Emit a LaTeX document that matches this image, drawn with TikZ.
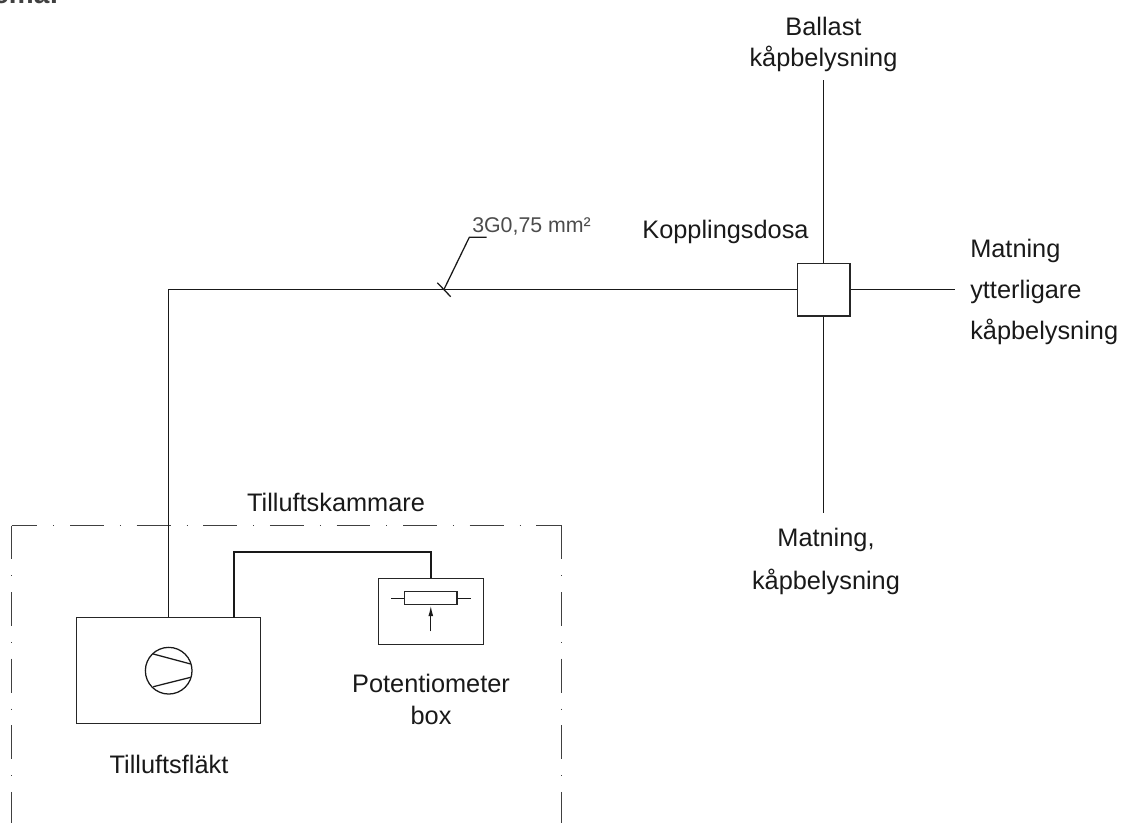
\documentclass[tikz,border=0pt]{standalone}
\usepackage{fontspec}
\setmainfont{Liberation Sans}
\usetikzlibrary{arrows.meta,positioning,calc}

\tikzset{
    wire/.style={line width=1.15pt,black!90},
    thinwire/.style={line width=0.95pt,black!90},
    unitbox/.style={draw,line width=1pt,black!85,minimum width=#1,inner sep=0pt},
    caption/.style={font=\fontsize{19}{23}\selectfont,align=center,text=black!90,inner sep=0pt},
    chamberline/.style={line width=1.1pt,black!75,dash pattern=on 25.4pt off 12pt on 0.6pt off 11.95pt}
}

\begin{document}
\begin{tikzpicture}[x=0.75pt,y=-0.75pt]
        \useasboundingbox (0,0) rectangle (1124,822);

        % Cut heading at the top edge
        \node[anchor=base east,inner sep=0pt,font=\fontsize{21}{25}\selectfont\bfseries,text=black!75] (heading) at (59,3) {Schema:};

        % Chamber outline, runs off the bottom
        \coordinate (chamberTL) at (11.5,525.5);
        \coordinate (chamberTR) at (561.5,525.5);
        \coordinate (chamberBL) at (11.5,830);
        \coordinate (chamberBR) at (561.5,830);
        \draw[chamberline,dash phase=6pt] (chamberTL) -- (chamberTR);
        \draw[chamberline] (chamberTL) -- (chamberBL);
        \draw[chamberline] (chamberTR) -- (chamberBR);
        \node[caption] (chamberlabel) at (336,502) {Tilluftskammare};

        % Boxes
        \node[unitbox=138pt,minimum height=79.2pt] (fan) at (168.7,670.5) {};
        \node[unitbox=78.8pt,minimum height=49.5pt] (pot) at (430.8,611.3) {};
        \node[unitbox=39.5pt,minimum height=9.8pt] (resistor) at (430.8,598.2) {};
        \node[unitbox=39.5pt,minimum height=39.5pt] (junction) at (823.5,289.5) {};
        \node[draw,circle,thinwire,minimum size=35pt,inner sep=0pt] (fanwheel) at (168.7,670.7) {};

        % Fan symbol
        \draw[thinwire] (153.3,654) -- (190.7,664);
        \draw[thinwire] (153.3,686.7) -- (190.7,677.3);

        % Potentiometer symbol
        \coordinate (leadL) at (391,598.2);
        \coordinate (leadR) at (470.7,598.2);
        \coordinate (wiper) at (430.8,631.3);
        \draw[thinwire] (leadL) -- (resistor.west);
        \draw[thinwire] (resistor.east) -- (leadR);
        \draw[thinwire,-{Latex[length=8pt,width=3.6pt]}] (wiper) -- (resistor.south);

        % Wiring
        \draw[wire] (fan.north) -- (fan.north |- junction.west) -- (junction.west);
        \coordinate (fanout) at (234,617.7);
        \draw[wire] (fanout) -- (234,552) -- (pot.north |- 0,552) -- (pot.north);

        % Free ends at the junction box
        \coordinate (ballast) at (823.5,80);
        \coordinate (further) at (955,289.5);
        \coordinate (feed) at (823.5,513);
        \draw[wire] (junction.north) -- (ballast);
        \draw[wire] (junction.east) -- (further);
        \draw[wire] (junction.south) -- (feed);

        % Cable mark
        \coordinate (tickA) at (437.3,282.7);
        \coordinate (tickB) at (450.7,296.7);
        \coordinate (leaderA) at (444,289.3);
        \coordinate (leaderB) at (469.3,237.3);
        \coordinate (leaderC) at (486.7,237.3);
        \draw[thinwire] (tickA) -- (tickB);
        \draw[thinwire] (leaderA) -- (leaderB) -- (leaderC);
        \node[anchor=base west,inner sep=0pt,font=\fontsize{16}{19}\selectfont,text=black!70] (cablelabel) at (472,232) {3G0,75 mm²};

        % Labels
        \node[caption] (fanlabel) at (169,764) {Tilluftsfläkt};
        \node[caption] (potlabel) at (431,699.5) {Potentiometer\\[1pt]box};
        \node[caption] (junctionlabel) at (725.5,232) {Kopplingsdosa};
        \node[caption] (ballastlabel) at (823.5,44.5) {Ballast\\kåpbelysning};
        \node[caption,align=left,anchor=west] (furtherlabel) at (970,292) {Matning\\[8pt]ytterligare\\[8pt]kåpbelysning};
        \node[caption] (feedlabel) at (826,561.5) {Matning,\\[9.5pt]kåpbelysning};
\end{tikzpicture}
\end{document}
